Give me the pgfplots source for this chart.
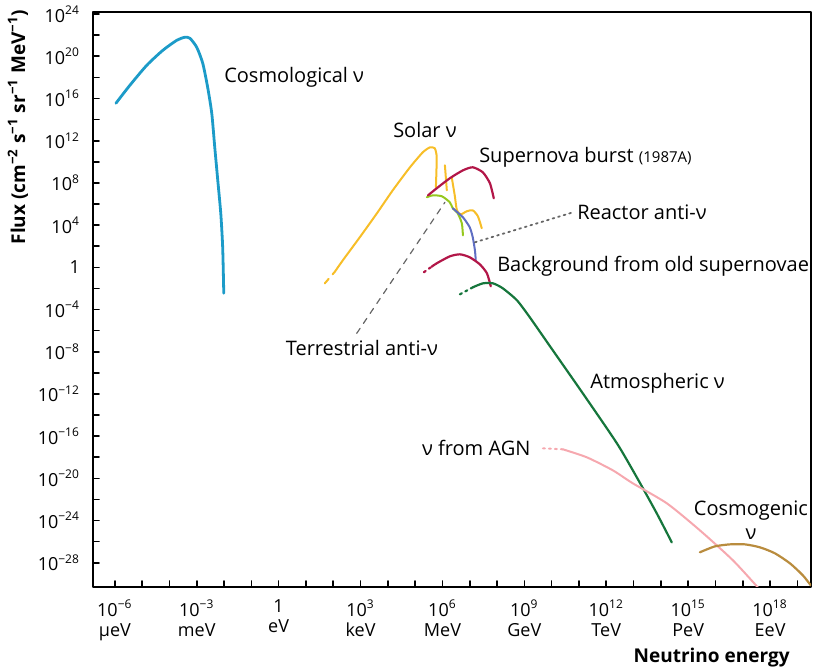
\documentclass[border=0pt]{standalone}
\usepackage{pgfplots}
\pgfplotsset{compat=1.18}
\usepackage{fontspec}
\setmainfont{Open Sans}

% Energies and fluxes are stored as base-10 exponents:
% x = log10(E / eV), y = log10(flux / (cm^-2 s^-1 sr^-1 MeV^-1))
\definecolor{cosmo}{RGB}{28,155,200}
\definecolor{solar}{RGB}{247,190,40}
\definecolor{snred}{RGB}{178,22,72}
\definecolor{terr}{RGB}{150,200,30}
\definecolor{reactor}{RGB}{95,110,195}
\definecolor{atmo}{RGB}{22,118,60}
\definecolor{agn}{RGB}{246,168,175}
\definecolor{cosmogen}{RGB}{185,140,62}

\begin{document}
\begin{tikzpicture}
\begin{axis}[
  scale only axis,
  width=359pt, height=287.5pt,
  xmin=-6.8, xmax=19.5,
  ymin=-30.3, ymax=24.2,
  axis line style={line width=0.9pt},
  tick style={black, line width=0.8pt},
  major tick length=3pt, minor tick length=3pt,
  tick align=inside,
  xtick pos=bottom, ytick pos=left,
  xtick={-6,-3,...,18},
  minor xtick={-5,-4,-2,-1,1,2,4,5,7,8,10,11,13,14,16,17,19},
  xticklabels={
    10\textsuperscript{−6}\\µeV, 10\textsuperscript{−3}\\meV, 1\\eV,
    10\textsuperscript{3}\\keV, 10\textsuperscript{6}\\MeV, 10\textsuperscript{9}\\GeV,
    10\textsuperscript{12}\\TeV, 10\textsuperscript{15}\\PeV, 10\textsuperscript{18}\\EeV},
  xticklabel style={align=center, font=\fontsize{9}{10}\selectfont, yshift=-3pt},
  ytick={-28,-24,...,24},
  minor ytick={-26,-22,...,22},
  yticklabels={
    10\textsuperscript{−28}, 10\textsuperscript{−24}, 10\textsuperscript{−20},
    10\textsuperscript{−16}, 10\textsuperscript{−12}, 10\textsuperscript{−8},
    10\textsuperscript{−4}, 1, 10\textsuperscript{4}, 10\textsuperscript{8},
    10\textsuperscript{12}, 10\textsuperscript{16}, 10\textsuperscript{20},
    10\textsuperscript{24}},
  yticklabel style={font=\fontsize{9}{10}\selectfont, xshift=-3pt},
  xlabel={Neutrino energy},
  xlabel style={at={(rel axis cs:0.98,0)}, anchor=north east, yshift=-27pt,
    font=\fontsize{9.5}{11}\selectfont\bfseries},
  ylabel={Flux (cm\textsuperscript{−2} s\textsuperscript{−1} sr\textsuperscript{−1} MeV\textsuperscript{−1})},
  ylabel style={at={(ticklabel cs:0.80)}, font=\fontsize{9.5}{11}\selectfont\bfseries, yshift=-2pt},
  line join=round, line cap=round,
]

% Cosmological neutrinos
\addplot[cosmo, line width=1.4pt, smooth, tension=0.4] coordinates {
  (-5.96,15.55) (-5.45,17.25) (-4.83,19.15) (-4.24,20.57) (-3.73,21.52)
  (-3.44,21.80) (-3.25,21.71) (-3.00,20.85) (-2.78,19.34) (-2.60,17.06)
  (-2.45,14.60) (-2.34,11.37) (-2.23,8.25) (-2.12,5.12) (-2.05,1.90) (-2.01,-2.46)};

% Solar neutrinos
\addplot[solar, line width=1pt, dashed] coordinates {(1.69,-1.52) (2.05,-0.45)};
\addplot[solar, line width=1pt, smooth, tension=0.35] coordinates {
  (2.05,-0.45) (2.35,0.66) (2.97,2.84) (3.60,5.12) (4.18,7.30) (4.81,9.48)
  (5.28,10.90) (5.54,11.37) (5.72,11.28) (5.79,10.43) (5.76,7.58)};
\addplot[solar, line width=1pt] coordinates {(6.09,9.67) (6.16,7.30)};
\addplot[solar, line width=1pt, smooth, tension=0.4] coordinates {
  (6.34,8.53) (6.45,6.82) (6.53,5.40) (6.67,5.02) (6.89,5.31) (7.11,5.40)
  (7.30,4.83) (7.44,3.70)};

% Terrestrial anti-neutrinos
\addplot[terr, line width=1pt, smooth, tension=0.4] coordinates {
  (5.43,6.64) (5.65,6.82) (5.98,6.73) (6.27,6.16) (6.38,5.59) (6.56,5.12)
  (6.71,4.17) (6.75,3.03)};

% Reactor anti-neutrinos
\addplot[reactor, line width=1pt, smooth, tension=0.4] coordinates {
  (6.38,5.59) (6.75,4.74) (7.00,3.79) (7.11,2.84) (7.19,1.61) (7.22,0.66)};

% Supernova burst (1987A)
\addplot[snred, line width=1.1pt, smooth, tension=0.4] coordinates {
  (5.47,6.82) (5.79,7.49) (6.27,8.44) (6.75,9.19) (7.11,9.48) (7.48,9.00)
  (7.74,7.96) (7.88,6.54)};

% Background from old supernovae
\addplot[snred, line width=1.1pt, dotted] coordinates {(5.32,-0.47) (5.60,0.05)};
\addplot[snred, line width=1.1pt, smooth, tension=0.4] coordinates {
  (5.60,0.05) (5.79,0.38) (6.27,1.04) (6.64,1.23) (7.00,0.95) (7.37,0.28)
  (7.63,-0.57) (7.77,-1.80)};

% Atmospheric neutrinos
\addplot[atmo, line width=1.1pt, dotted] coordinates {(6.64,-2.56) (7.11,-1.90)};
\addplot[atmo, line width=1.1pt, smooth, tension=0.4] coordinates {
  (7.11,-1.90) (7.48,-1.52) (7.85,-1.52) (8.21,-1.99) (8.73,-3.13) (9.20,-4.74)
  (9.93,-7.45) (11.14,-11.94) (12.39,-16.68) (13.12,-19.91) (13.85,-23.32)
  (14.40,-26.07)};

% Neutrinos from AGN
\addplot[agn, line width=1pt, dotted] coordinates {(9.68,-17.16) (10.41,-17.25)};
\addplot[agn, line width=1pt, smooth, tension=0.4] coordinates {
  (10.41,-17.25) (11.29,-18.01) (12.24,-19.24) (12.97,-20.47) (14.22,-22.37)
  (15.43,-24.93) (16.64,-27.77) (17.55,-30.33)};

% Cosmogenic neutrinos
\addplot[cosmogen, line width=1.1pt, smooth, tension=0.4] coordinates {
  (15.43,-27.01) (15.98,-26.45) (16.53,-26.26) (17.08,-26.26) (17.63,-26.54)
  (18.18,-27.11) (18.73,-28.06) (19.20,-29.19) (19.49,-30.14)};

% Leader lines for labels
\addplot[black!60, line width=0.6pt, dashed] coordinates {(2.86,-6.26) (6.09,6.16)};
\addplot[black!60, line width=0.9pt, dotted] coordinates {(7.19,2.37) (10.78,5.21)};

% Curve labels
\begin{scope}[every node/.style={font=\fontsize{10}{12}\selectfont, inner sep=1pt}]
\node[anchor=west] at (axis cs:-2.08,18.0) {Cosmological ν};
\node at (axis cs:5.36,13.0) {Solar ν};
\node[anchor=west] at (axis cs:7.26,10.43) {Supernova burst {\fontsize{7.5}{8}\selectfont (1987A)}};
\node[anchor=west] at (axis cs:10.85,5.21) {Reactor anti-ν};
\node[anchor=west, overlay] at (axis cs:7.92,0.09) {Background from old supernovae};
\node at (axis cs:3.05,-7.68) {Terrestrial anti-ν};
\node[anchor=west] at (axis cs:11.33,-11.0) {Atmospheric ν};
\node[anchor=east] at (axis cs:9.31,-17.16) {ν from AGN};
\node[align=center] at (axis cs:17.3,-24.0) {Cosmogenic\\ν};
\end{scope}
\end{axis}
\pgfresetboundingbox
\path[use as bounding box]
  ([xshift=-46.5pt, yshift=-40.5pt]current axis.south west)
  rectangle ([xshift=1pt, yshift=6pt]current axis.north east);
\end{tikzpicture}
\end{document}
